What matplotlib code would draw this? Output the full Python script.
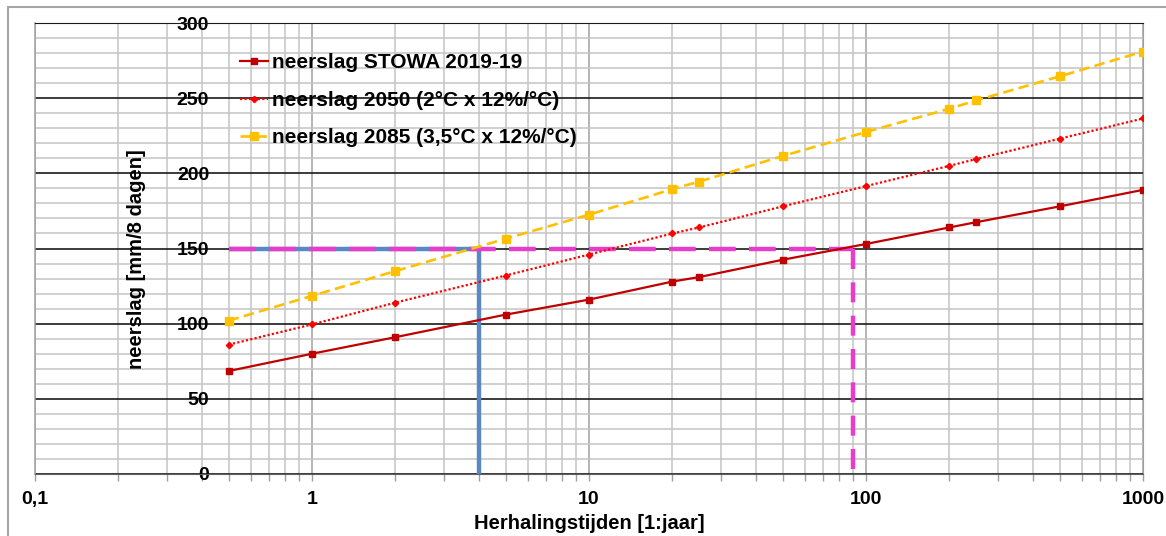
import matplotlib
matplotlib.use('Agg')
import matplotlib.pyplot as plt
from matplotlib.ticker import FixedLocator, MultipleLocator, NullFormatter, LogLocator
from matplotlib.patches import Rectangle

# ---- data ----
return_periods = [0.5, 1, 2, 5, 10, 20, 25, 50, 100, 200, 250, 500, 1000]
stowa_2019 = [68.5, 80, 91, 106, 116, 128, 131, 142.5, 153, 164, 167.5, 178, 189]
neerslag_2050 = [86, 99.5, 114, 132, 146, 160, 164, 178, 191.5, 205, 209.5, 223, 236.5]
neerslag_2085 = [102, 118.5, 135, 156.5, 172.5, 189.5, 194.5, 211.5, 227.5, 243, 248.5, 264.5, 281]
series_labels = ['neerslag STOWA 2019-19', 'neerslag 2050 (2°C x 12%/°C)',
                 'neerslag 2085 (3,5°C x 12%/°C)']
x_ticks = [0.1, 1, 10, 100, 1000]
x_tick_labels = ['0,1', '1', '10', '100', '1000']
y_ticks = [0, 50, 100, 150, 200, 250, 300]
threshold = 150
t_start = 0.5
t_2085 = 4
t_now = 90

plt.rcParams['font.family'] = ['Liberation Sans', 'DejaVu Sans']
plt.rcParams['font.weight'] = 'bold'

W, H = 1166, 536
fig = plt.figure(figsize=(W / 100, H / 100), dpi=100)
fig.patches.append(Rectangle((8 / W, -0.2), 1.2, 1.2 - 7 / H, transform=fig.transFigure,
                             fill=False, edgecolor='#A6A6A6', lw=1.5))
ax = fig.add_axes([35 / W, 1 - 474 / H, (1143 - 35) / W, (474 - 23) / H])
ax.set_xscale('log')
ax.set_xlim(0.1, 1000)
ax.set_ylim(0, 300)

# grid
ax.xaxis.set_major_locator(FixedLocator(x_ticks))
ax.xaxis.set_minor_locator(LogLocator(base=10, subs=range(2, 10), numticks=20))
ax.xaxis.set_minor_formatter(NullFormatter())
ax.set_xticklabels(x_tick_labels)
ax.yaxis.set_major_locator(FixedLocator(y_ticks))
ax.yaxis.set_minor_locator(MultipleLocator(10))
ax.grid(which='major', axis='x', color='#A0A0A0', lw=1.1)
ax.grid(which='minor', axis='x', color='#C4C4C4', lw=1.1)
ax.grid(which='major', axis='y', color='#1A1A1A', lw=1.2)
ax.grid(which='minor', axis='y', color='#C4C4C4', lw=1.1)
ax.set_axisbelow(True)

ax.spines['right'].set_color('#A0A0A0')
ax.spines['top'].set_color('#1A1A1A')
ax.spines['bottom'].set_color('#606060')
ax.spines['left'].set_position(('data', t_start))
ax.spines['left'].set_visible(False)
ax.plot([0.1, 0.1], [0, 300], color='#A0A0A0', lw=1.1, clip_on=False, zorder=1)

ax.tick_params(axis='x', which='both', direction='out', length=5, color='#A0A0A0', width=1,
               labelsize=14, pad=7.5)
ax.tick_params(axis='y', which='both', length=0, labelsize=14, pad=14)
for lab in ax.get_xticklabels() + ax.get_yticklabels():
    lab.set_fontweight('bold')

# helper lines
ax.plot([t_start, t_2085, t_2085], [threshold, threshold, 0], color='#5B87C5', lw=3.2,
        solid_capstyle='butt', zorder=2)
ax.plot([t_start, t_now], [threshold, threshold], color='#E83CCB', lw=3.2,
        dashes=(6, 3), zorder=2.1)
ax.plot([t_now, t_now], [threshold, 0], color='#E83CCB', lw=3.2, dashes=(4.5, 3), zorder=2.1)

# series
ax.plot(return_periods, stowa_2019, color='#C00000', lw=1.6, marker='s', ms=5,
        label=series_labels[0], zorder=3)
ax.plot(return_periods, neerslag_2050, color='#FF0000', lw=1.6, ls=(0, (1, 1)), marker='D',
        ms=3.2, label=series_labels[1], zorder=3)
ax.plot(return_periods, neerslag_2085, color='#FFC000', lw=1.9, dashes=(4, 2), marker='s',
        ms=5.5, label=series_labels[2], zorder=3)

leg = ax.legend(loc='upper left', bbox_to_anchor=((240 - 35) / 1108, (474 - 53.5) / 451),
                frameon=False, borderpad=0, borderaxespad=0, handlelength=1.35,
                handletextpad=0.2, labelspacing=0.88, prop={'weight': 'bold', 'size': 15})

ax.set_xlabel('Herhalingstijden [1:jaar]', fontsize=14.5, fontweight='bold', labelpad=4)
ax.set_ylabel('neerslag [mm/8 dagen]', fontsize=14.5, fontweight='bold')
ax.yaxis.set_label_coords((146 - 35) / 1108, 0.476)

fig.savefig('out.png', dpi=100)
